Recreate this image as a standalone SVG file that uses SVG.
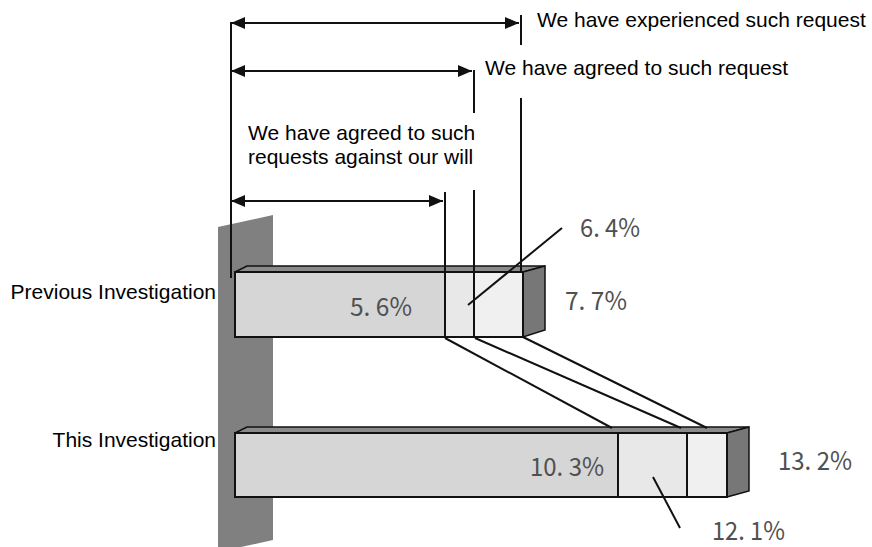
<svg xmlns="http://www.w3.org/2000/svg" width="872" height="547" viewBox="0 0 872 547">
<style>
.lbl{font-family:"Liberation Sans",Arial,sans-serif;font-size:21px;fill:#000}
.pct{font-family:"Noto Sans CJK JP","Liberation Sans",sans-serif;font-size:25px;fill:#505050}
.ln{stroke:#111;stroke-width:2;fill:none}
.edge{stroke:#111;stroke-width:2;fill:none}
.face{stroke:#111;stroke-width:1.5}
</style>
<defs>
<marker id="ah" viewBox="0 0 14 12" refX="14" refY="6" markerWidth="14" markerHeight="12" markerUnits="userSpaceOnUse" orient="auto-start-reverse">
<path d="M0,0 L14,6 L0,12 z" fill="#111"/>
</marker>
</defs>
<rect width="872" height="547" fill="#fff"/>
<g id="wall">
<polygon points="218,227 273,215 273,540 218,552" fill="#808080"/>
</g>
<g id="bar-previous">
<rect x="235" y="272" width="210" height="65" fill="#d6d6d6"/>
<rect x="445" y="272" width="29" height="65" fill="#e8e8e8"/>
<rect x="474" y="272" width="49" height="65" fill="#f0f0f0"/>
<polygon class="face" points="235,272 247,266 545,266 523,272" fill="#8a8a8a"/>
<polygon class="face" points="523,272 545,266 545,330 523,337" fill="#777"/>
<rect class="edge" x="235" y="272" width="288" height="65"/>
</g>
<g id="bar-this">
<rect x="235" y="433" width="383" height="64" fill="#d6d6d6"/>
<rect x="618" y="433" width="69" height="64" fill="#e8e8e8"/>
<rect x="687" y="433" width="40" height="64" fill="#f0f0f0"/>
<polygon class="face" points="235,433 247,427 749,427 727,433" fill="#8a8a8a"/>
<polygon class="face" points="727,433 749,427 749,491 727,497" fill="#777"/>
<rect class="edge" x="235" y="433" width="492" height="64"/>
<line class="ln" x1="618" y1="433" x2="618" y2="497"/>
<line class="ln" x1="687" y1="433" x2="687" y2="497"/>
</g>
<g id="connectors">
<line class="ln" x1="231" y1="23" x2="519" y2="23" marker-start="url(#ah)" marker-end="url(#ah)"/>
<line class="ln" x1="231" y1="71" x2="472" y2="71" marker-start="url(#ah)" marker-end="url(#ah)"/>
<line class="ln" x1="231" y1="201" x2="443" y2="201" marker-start="url(#ah)" marker-end="url(#ah)"/>
<line class="ln" x1="231" y1="22" x2="231" y2="278"/>
<line class="ln" x1="521" y1="15" x2="521" y2="45"/>
<line class="ln" x1="521" y1="98" x2="521" y2="272"/>
<line class="ln" x1="474" y1="70" x2="474" y2="113"/>
<line class="ln" x1="474" y1="190" x2="474" y2="338"/>
<line class="ln" x1="445" y1="192" x2="445" y2="338"/>
<line class="ln" x1="445" y1="338" x2="612" y2="428"/>
<line class="ln" x1="475" y1="338" x2="681" y2="428"/>
<line class="ln" x1="523" y1="337" x2="707" y2="428"/>
<line class="ln" x1="562" y1="228" x2="468" y2="305"/>
<line class="ln" x1="653" y1="477" x2="680" y2="528"/>
</g>
<g id="labels">
<text class="lbl" x="537" y="27">We have experienced such request</text>
<text class="lbl" x="485" y="75">We have agreed to such request</text>
<text class="lbl" x="248" y="140">We have agreed to such</text>
<text class="lbl" x="248" y="164">requests against our will</text>
<text class="lbl" x="216" y="299" text-anchor="end">Previous Investigation</text>
<text class="lbl" x="216" y="447" text-anchor="end">This Investigation</text>
<text class="pct" x="350" y="316" textLength="62" lengthAdjust="spacingAndGlyphs">5. 6%</text>
<text class="pct" x="580" y="237" textLength="60" lengthAdjust="spacingAndGlyphs">6. 4%</text>
<text class="pct" x="565" y="310" textLength="62" lengthAdjust="spacingAndGlyphs">7. 7%</text>
<text class="pct" x="530" y="476" textLength="74" lengthAdjust="spacingAndGlyphs">10. 3%</text>
<text class="pct" x="778" y="470" textLength="74" lengthAdjust="spacingAndGlyphs">13. 2%</text>
<text class="pct" x="712" y="540" textLength="73" lengthAdjust="spacingAndGlyphs">12. 1%</text>
</g>
</svg>
